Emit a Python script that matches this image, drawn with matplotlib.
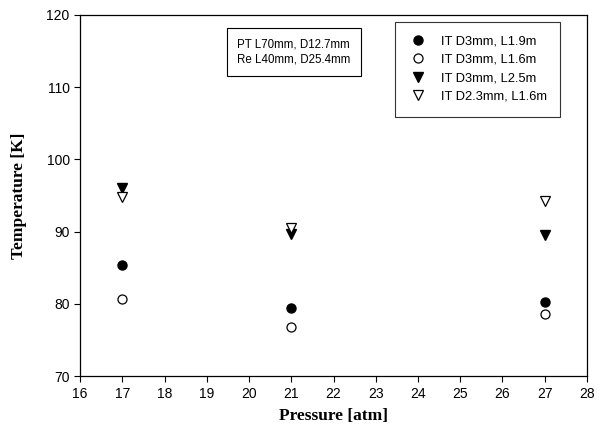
import matplotlib
matplotlib.use("Agg")
import matplotlib.pyplot as plt

plt.rcParams['font.family'] = ['Liberation Sans', 'DejaVu Sans']

pressure = [17, 21, 27]
t_d3_l19 = [85.4, 79.5, 80.3]
t_d3_l16 = [80.7, 76.8, 78.6]
t_d3_l25 = [96.1, 89.7, 89.5]
t_d23_l16 = [94.8, 90.5, 94.2]

labels = ['IT D3mm, L1.9m', 'IT D3mm, L1.6m', 'IT D3mm, L2.5m', 'IT D2.3mm, L1.6m']

fig = plt.figure(figsize=(6.02, 4.41), dpi=100)
ax = fig.add_axes([0.133, 0.147, 0.842, 0.819])

ax.plot(pressure, t_d3_l19, 'o', color='black', ms=6.5, label=labels[0])
ax.plot(pressure, t_d3_l16, 'o', mfc='white', mec='black', mew=0.9, ms=6.5, label=labels[1])
ax.plot(pressure, t_d3_l25, 'v', color='black', ms=6.5, label=labels[2])
ax.plot(pressure, t_d23_l16, 'v', mfc='white', mec='black', mew=0.9, ms=6.5, label=labels[3])

ax.set_xlim(16, 28)
ax.set_ylim(70, 120)
ax.set_xticks(range(16, 29))
ax.set_yticks(range(70, 121, 10))
ax.tick_params(direction='out', length=4, width=0.8, labelsize=10, top=False, right=False)
for s in ax.spines.values():
    s.set_linewidth(0.9)

ax.set_xlabel('Pressure [atm]', family='Liberation Serif', fontweight='bold', fontsize=12.5, labelpad=5)
ax.set_ylabel('Temperature [K]', family='Liberation Serif', fontweight='bold', fontsize=12.5, labelpad=14)

ax.text(0.310, 0.936, 'PT L70mm, D12.7mm\nRe L40mm, D25.4mm', transform=ax.transAxes,
        fontsize=8.3, va='top', ha='left', linespacing=1.35,
        bbox=dict(boxstyle='square,pad=0.9', fc='white', ec='black', lw=0.8))

leg = ax.legend(loc='upper right', bbox_to_anchor=(0.947, 0.981), fontsize=9.3, frameon=True,
                fancybox=False, edgecolor='black', handletextpad=1.0, borderpad=1.05,
                borderaxespad=0, labelspacing=0.5, handlelength=1.5)
leg.get_frame().set_linewidth(0.8)

fig.savefig('out.png', dpi=100)
